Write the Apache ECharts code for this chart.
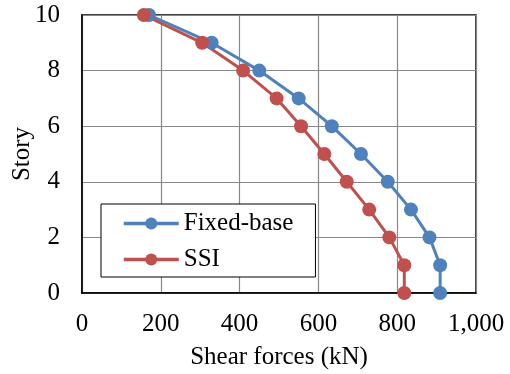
<!DOCTYPE html>
<html>
<head>
<meta charset="utf-8">
<script src="https://cdn.jsdelivr.net/npm/echarts@6/dist/echarts.min.js"></script>
<style>
  html, body { margin: 0; padding: 0; background: #fff; }
  #chart { width: 510px; height: 374px; }
</style>
</head>
<body>
<div id="chart"></div>
<script>
// story levels and shear forces (kN)
const stories = [0, 1, 2, 3, 4, 5, 6, 7, 8, 9, 10];
const fixedBase = [909, 909, 882, 835, 776, 708, 634, 550, 450, 329, 170];
const ssi = [818, 818, 780, 729, 672, 615, 556, 494, 409, 305, 157];
const xTicks = [0, 200, 400, 600, 800, 1000];
const yTicks = [0, 2, 4, 6, 8, 10];

const font = 'Times New Roman, Liberation Serif, serif';

function pairs(vals) {
  return vals.map((v, i) => [v, stories[i]]);
}

const chart = echarts.init(document.getElementById('chart'));
chart.setOption({
  animation: false,
  textStyle: { fontFamily: font, color: '#000' },
  grid: {
    left: 82, right: 34, top: 15, bottom: 81,
    outerBoundsMode: 'none',
    containLabel: false,
    show: true, borderColor: '#000', borderWidth: 1.5
  },
  legend: {
    left: 101, top: 204,
    orient: 'vertical',
    padding: [7, 22, 5, 21],
    itemGap: 11,
    itemWidth: 55,
    itemHeight: 15,
    backgroundColor: '#fff',
    borderColor: '#000',
    borderWidth: 1,
    lineStyle: { width: 3.5 },
    textStyle: { fontFamily: font, fontSize: 25, color: '#000' },
    data: ['Fixed-base', 'SSI']
  },
  xAxis: {
    type: 'value',
    min: xTicks[0], max: xTicks[xTicks.length - 1], interval: 200,
    name: 'Shear forces (kN)',
    nameLocation: 'middle',
    nameGap: 52,
    nameMoveOverlap: false,
    nameTextStyle: { fontFamily: font, fontSize: 25, color: '#000' },
    axisLine: { show: true, lineStyle: { color: '#000', width: 1.5 } },
    axisTick: { show: false },
    axisLabel: {
      fontFamily: font, fontSize: 25, color: '#000', margin: 19,
      formatter: v => v.toLocaleString('en-US')
    },
    splitLine: { show: true, lineStyle: { color: '#888', width: 1.2 } }
  },
  yAxis: {
    type: 'value',
    min: yTicks[0], max: yTicks[yTicks.length - 1], interval: 2,
    name: 'Story',
    nameLocation: 'middle',
    nameGap: 47,
    nameMoveOverlap: false,
    nameTextStyle: { fontFamily: font, fontSize: 25, color: '#000' },
    axisLine: { show: true, lineStyle: { color: '#000', width: 1.5 } },
    axisTick: { show: false },
    axisLabel: { fontFamily: font, fontSize: 25, color: '#000', margin: 22 },
    splitLine: { show: true, lineStyle: { color: '#888', width: 1.2 } }
  },
  series: [
    {
      name: 'Fixed-base',
      type: 'line',
      data: pairs(fixedBase),
      color: '#4F81BD',
      symbol: 'circle',
      symbolSize: 14,
      lineStyle: { width: 3 }
    },
    {
      name: 'SSI',
      type: 'line',
      data: pairs(ssi),
      color: '#C0504D',
      symbol: 'circle',
      symbolSize: 14,
      lineStyle: { width: 3 }
    }
  ]
});
</script>
</body>
</html>
